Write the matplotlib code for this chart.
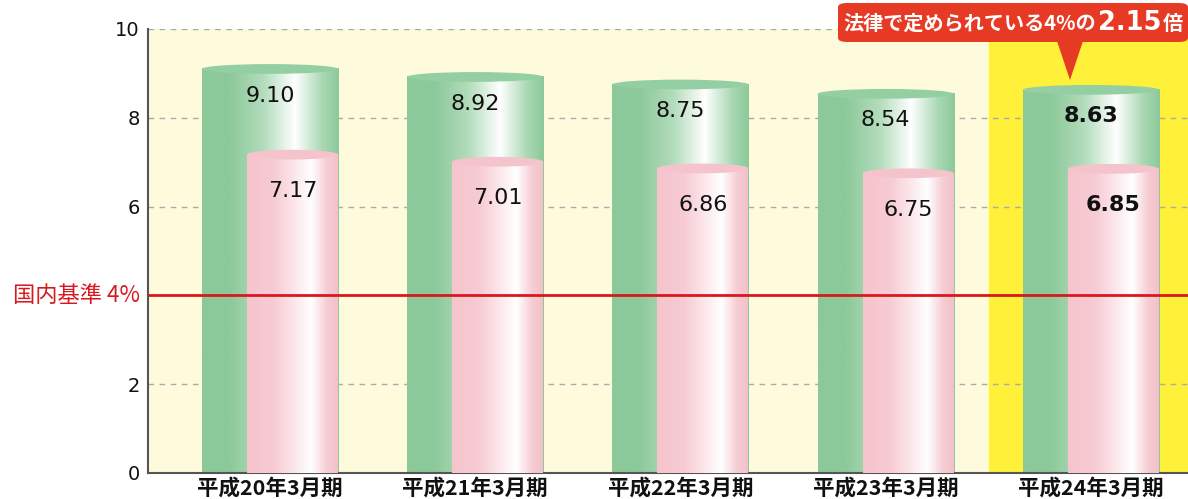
import matplotlib
matplotlib.use("Agg")
import matplotlib.pyplot as plt
import numpy as np
from matplotlib.colors import LinearSegmentedColormap
from matplotlib.patches import Ellipse, FancyBboxPatch, Polygon

plt.rcParams['font.family'] = ['Noto Sans CJK JP', 'DejaVu Sans']

categories = ["平成20年3月期", "平成21年3月期", "平成22年3月期", "平成23年3月期", "平成24年3月期"]
green_values = [9.10, 8.92, 8.75, 8.54, 8.63]
pink_values = [7.17, 7.01, 6.86, 6.75, 6.85]
green_labels = ["9.10", "8.92", "8.75", "8.54", "8.63"]
pink_labels = ["7.17", "7.01", "6.86", "6.75", "6.85"]
yticks = [0, 2, 6, 8, 10]
gridlines = [2, 6, 8, 10]
baseline = 4
baseline_label = "国内基準 4%"
callout_main = "法律で定められている4%の"
callout_num = "2.15"
callout_tail = "倍"

fig = plt.figure(figsize=(11.88, 4.99), dpi=100)
ax = fig.add_axes([148/1188, 26/499, 1 - 148/1188, (473-29)/499])
ax.set_facecolor("#FEFADC")

x = np.arange(len(categories))
gw = 0.663
p_off_l, p_off_r = -0.112, 0.331
ell_h = 0.22

green_cmap = LinearSegmentedColormap.from_list("g", [
    (0.0, "#8CC99A"), (0.2, "#8CC99A"), (0.45, "#B3DCBC"), (0.68, "#FFFFFF"),
    (0.88, "#A9D8B3"), (1.0, "#8CC99A")])
pink_cmap = LinearSegmentedColormap.from_list("p", [
    (0.0, "#F6C4CD"), (0.3, "#F7CBD3"), (0.71, "#FFFFFF"),
    (0.88, "#F6CDD4"), (1.0, "#F4C0CA")])
grad = np.linspace(0, 1, 256).reshape(1, -1)

xlim = (-0.594, 4.473)

# highlight
ax.axvspan(3.503, xlim[1], color="#FFF03A", zorder=0)

for yv in gridlines:
    ax.axhline(yv, color="#AAAAAA", lw=1, ls=(0, (4, 4)), zorder=1)

numfont = ['DejaVu Sans']
for i in range(len(categories)):
    g0, g1 = x[i] - gw/2, x[i] + gw/2
    ax.imshow(grad, cmap=green_cmap, extent=[g0, g1, 0, green_values[i]],
              aspect='auto', zorder=2, interpolation='bilinear')
    ax.add_patch(Ellipse((x[i], green_values[i]), gw, ell_h, facecolor="#93CFA2",
                         edgecolor="none", zorder=2.5))
    p0, p1 = x[i] + p_off_l, x[i] + p_off_r
    ax.imshow(grad, cmap=pink_cmap, extent=[p0, p1, 0, pink_values[i]],
              aspect='auto', zorder=3, interpolation='bilinear')
    ax.add_patch(Ellipse(((p0+p1)/2, pink_values[i]), p1-p0, ell_h, facecolor="#F5C3CC",
                         edgecolor="none", zorder=3.5))
    bold = (i == len(categories) - 1)
    ax.text(x[i], green_values[i] - 0.6, green_labels[i], ha='center', va='center',
            fontsize=16, fontweight='bold' if bold else 'normal', family=numfont,
            color="#111111", zorder=5)
    ax.text((p0+p1)/2, pink_values[i] - 0.82, pink_labels[i], ha='center', va='center',
            fontsize=16, fontweight='bold' if bold else 'normal', family=numfont,
            color="#111111", zorder=5)

ax.axhline(baseline, color="#D7191F", lw=2, zorder=4)
ax.text(-0.008, baseline, baseline_label, transform=ax.get_yaxis_transform(),
        ha='right', va='center', color="#D7191F", fontsize=16)

ax.set_xlim(*xlim)
ax.set_ylim(0, 10)
ax.set_yticks(yticks)
ax.set_yticklabels([str(v) for v in yticks], fontsize=14, family=numfont, color="#111111")
ax.set_xticks(x)
ax.set_xticklabels(categories, fontsize=15.5, fontweight='bold', color="#111111")
ax.tick_params(axis='y', length=0, pad=6)
ax.tick_params(axis='x', length=0, pad=3)
for s in ['top', 'right']:
    ax.spines[s].set_visible(False)
for s in ['left', 'bottom']:
    ax.spines[s].set_color("#555555")
    ax.spines[s].set_linewidth(1.5)

# callout
red = "#E63A24"
box = FancyBboxPatch((838/1188, (499-42)/499), (1188-838)/1188, 39/499,
                     boxstyle="round,pad=0,rounding_size=0.008", transform=fig.transFigure,
                     facecolor=red, edgecolor="none", zorder=10)
fig.patches.append(box)
tri = Polygon([(1057/1188, (499-41)/499), (1083/1188, (499-41)/499), (1070/1188, (499-80)/499)],
              closed=True, transform=fig.transFigure, facecolor=red, edgecolor="none", zorder=10)
fig.patches.append(tri)

fig.canvas.draw()
r = fig.canvas.get_renderer()
ty = (499-23)/499
t1 = fig.text(843/1188, ty, callout_main, color="white", fontsize=14.5, fontweight='bold',
              va='center', ha='left', zorder=11)
bb = t1.get_window_extent(r)
t2 = fig.text(bb.x1/1188 + 0.002, ty, callout_num, color="white", fontsize=18.5, fontweight='bold',
              va='center', ha='left', zorder=11, family=numfont)
bb2 = t2.get_window_extent(r)
fig.text(bb2.x1/1188 + 0.001, ty, callout_tail, color="white", fontsize=14.5, fontweight='bold',
         va='center', ha='left', zorder=11)

fig.savefig("out.png", dpi=100)
